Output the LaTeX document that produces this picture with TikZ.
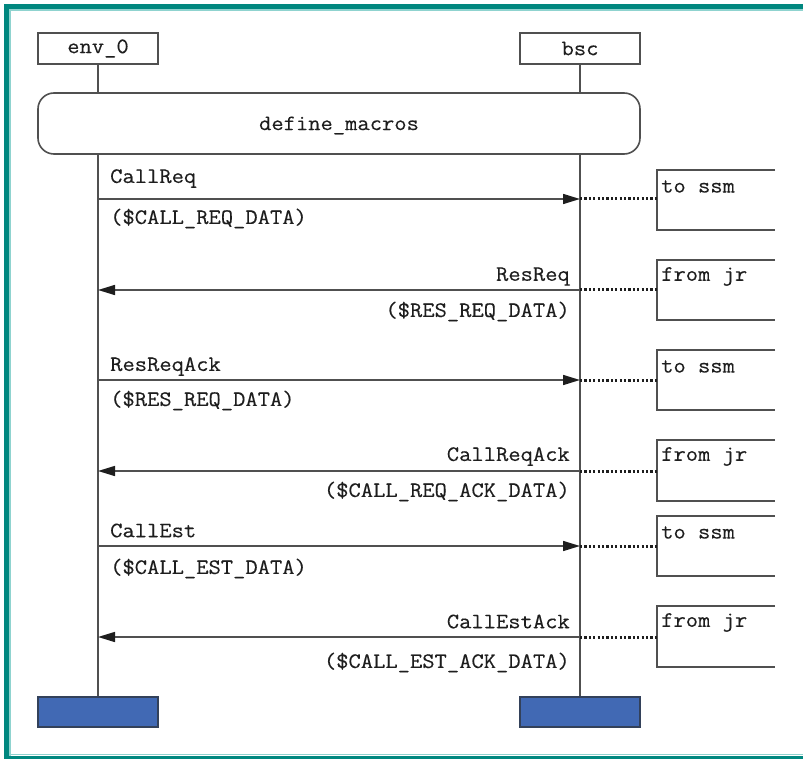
\documentclass[tikz,border=0pt]{standalone}
\usepackage{fontspec}
\setmonofont[FakeStretch=1.085, FakeBold=0.25]{Latin Modern Mono}
\usetikzlibrary{arrows.meta}
\definecolor{frame}{HTML}{00877F}
\definecolor{framelight}{HTML}{8FD3CF}
\definecolor{ink}{HTML}{505050}
\definecolor{txt}{HTML}{1E1E1E}
\definecolor{endfill}{HTML}{4169B4}
\definecolor{endline}{HTML}{33415A}
\tikzset{
  lbl/.style={font=\ttfamily\fontsize{22}{24}\selectfont, text=txt, inner sep=0pt},
  headbox/.style={draw=ink, line width=1.6pt, minimum width=120pt, minimum height=31pt, inner sep=0pt, lbl},
  endbox/.style={draw=endline, line width=1.6pt, fill=endfill, minimum width=120pt, minimum height=30pt, inner sep=0pt},
  life/.style={draw=ink, line width=1.5pt},
  msg/.style={draw=ink, line width=1.5pt, -{Triangle[length=17pt,width=10pt,color=txt]}},
  dots/.style={draw=txt, line width=3pt, dash pattern=on 2.2pt off 2.2pt},
  side/.style={draw=ink, line width=1.8pt}
}
\begin{document}
\begin{tikzpicture}[x=1pt, y=-1pt]
\useasboundingbox (0,0) rectangle (803,759);
\fill[white] (0,0) rectangle (803,759);
% outer frame (left, top, bottom)
\draw[framelight, line width=1.2pt] (10,759) -- (10,10) -- (803,10);
\draw[framelight, line width=1.2pt] (10,754.5) -- (803,754.5);
\fill[frame] (4,4) rectangle (803,9);
\fill[frame] (4,4) rectangle (9,759);
\fill[frame] (4,756) rectangle (803,759);

% instance heads
\node[headbox] (env) at (98,48.5) {env\_0};
\node[headbox] (bsc) at (580,48.5) {bsc};

% macro reference
\node[draw=ink, line width=1.6pt, rounded corners=16pt, minimum width=602pt, minimum height=61pt, inner sep=0pt] (macros) at (339,123.5) {};
\node[lbl] (macrolbl) at (339,125.5) {define\_macros};

% instance ends
\node[endbox] (envend) at (98,712) {};
\node[endbox] (bscend) at (580,712) {};

% lifelines
\draw[life] (env.south) -- (env.south |- macros.north);
\draw[life] (bsc.south) -- (bsc.south |- macros.north);
\draw[life] (env.south |- macros.south) -- (envend.north);
\draw[life] (bsc.south |- macros.south) -- (bscend.north);

% message anchor points on the lifelines
\foreach \n/\y in {1/199, 2/290, 3/380, 4/471, 5/546, 6/637} {
  \coordinate (e\n) at (98,\y);
  \coordinate (b\n) at (580,\y);
  \coordinate (c\n) at (657,\y);
}

% messages
\draw[msg] (e1) -- (b1);
\node[lbl, anchor=west] (m1) at (110,178.5) {CallReq};
\node[lbl, anchor=west] (p1) at (110,218.5) {(\$CALL\_REQ\_DATA)};

\draw[msg] (b2) -- (e2);
\node[lbl, anchor=east] (m2) at (570,276.5) {ResReq};
\node[lbl, anchor=east] (p2) at (570,311.5) {(\$RES\_REQ\_DATA)};

\draw[msg] (e3) -- (b3);
\node[lbl, anchor=west] (m3) at (110,366.5) {ResReqAck};
\node[lbl, anchor=west] (p3) at (110,400.5) {(\$RES\_REQ\_DATA)};

\draw[msg] (b4) -- (e4);
\node[lbl, anchor=east] (m4) at (570,456.5) {CallReqAck};
\node[lbl, anchor=east] (p4) at (570,491.5) {(\$CALL\_REQ\_ACK\_DATA)};

\draw[msg] (e5) -- (b5);
\node[lbl, anchor=west] (m5) at (110,530.5) {CallEst};
\node[lbl, anchor=west] (p5) at (110,568.5) {(\$CALL\_EST\_DATA)};

\draw[msg] (b6) -- (e6);
\node[lbl, anchor=east] (m6) at (570,621.5) {CallEstAck};
\node[lbl, anchor=east] (p6) at (570,662.5) {(\$CALL\_EST\_ACK\_DATA)};

% comment boxes, open on the right
\foreach \n/\t/\b/\s in {1/170/230/to ssm, 2/260/320/from jr, 3/350/410/to ssm, 4/440/501/from jr, 5/516/576/to ssm, 6/606/667/from jr} {
  \draw[side] (775,\t) -| (657,\b) -- (775,\b);
  \node[lbl, anchor=west] (t\n) at (661,\t+16.5) {\s};
  \draw[dots] (b\n) -- (c\n);
}
\end{tikzpicture}
\end{document}
